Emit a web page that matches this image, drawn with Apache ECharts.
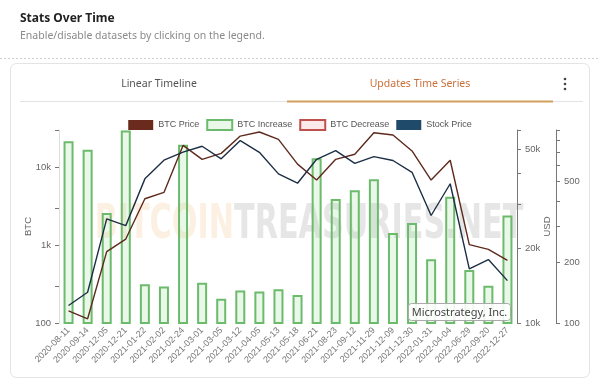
<!DOCTYPE html>
<html><head><meta charset="utf-8">
<script src="https://cdn.jsdelivr.net/npm/echarts@6/dist/echarts.min.js"></script>
<style>html,body{margin:0;padding:0;background:#fff}#c{width:600px;height:383px}</style>
</head><body><div id="c"></div>
<script>
const categories = ['2020-08-11','2020-09-14','2020-12-05','2020-12-21','2021-01-22','2021-02-02','2021-02-24','2021-03-01','2021-03-05','2021-03-12','2021-04-05','2021-05-13','2021-05-18','2021-06-21','2021-08-23','2021-09-12','2021-11-29','2021-12-09','2021-12-30','2022-01-31','2022-04-04','2022-06-29','2022-09-20','2022-12-27'];
const btcIncrease = [21454,16796,2574,29646,314,295,19452,328,205,262,253,271,229,13005,3907,5050,7002,1434,1914,660,4167,480,301,2395];
const btcDecrease = [];
const btcPrice = [11200,10400,19400,21800,31700,33600,52000,45700,48300,56700,58900,55000,43700,37700,45700,47900,58500,57300,49400,37700,45300,20700,19800,17900];
const stockPrice = [122,142,327,303,516,638,700,748,648,798,698,546,491,645,712,616,665,636,556,340,488,185,206,162];

const btcTicks = [100,300,1000,3000,10000,30000];
const btcTickLabels = [100,1000,10000];
const usdTicks = [10000,20000,30000,40000,50000,60000];
const usdTickLabels = [10000,20000,50000];
const stockTicks = [100,200,300,400,500,600,700,800,900];
const stockTickLabels = [100,200,500];

const fmt = v => v >= 1000 ? (v/1000) + 'k' : String(v);
const FONT = 'Liberation Sans';
const axisCommon = (ticks, labels) => ({
  type: 'log', logBase: 10,
  splitLine: {show: false},
  axisLine: {show: true, lineStyle: {color: '#777', width: 1}},
  axisTick: {show: true, length: 4, inside: false, customValues: ticks, lineStyle: {color: '#777'}},
  axisLabel: {customValues: labels, formatter: fmt, fontSize: 9.5, color: '#666', fontFamily: FONT, margin: 8},
  nameTextStyle: {fontSize: 9.5, color: '#666', fontFamily: FONT},
  nameMoveOverlap: false
});

const chart = echarts.init(document.getElementById('c'));
chart.setOption({
  animation: false,
  backgroundColor: '#fff',
  textStyle: {fontFamily: FONT},
  grid: {left: 59, right: 83, top: 130, bottom: 60, containLabel: false},
  legend: {
    top: 114, left: 'center', icon: 'rect', itemWidth: 25, itemHeight: 10, itemGap: 7,
    textStyle: {fontSize: 9, color: '#555', fontFamily: FONT},
    data: ['BTC Price','BTC Increase','BTC Decrease','Stock Price']
  },
  xAxis: {
    type: 'category', data: categories,
    axisLine: {show: false}, axisTick: {show: false},
    axisLabel: {rotate: 45, interval: 0, fontSize: 9, color: '#777', margin: 6, fontFamily: FONT}
  },
  yAxis: [
    Object.assign(axisCommon(btcTicks, btcTickLabels), {
      position: 'left', min: 100, max: 30000, name: 'BTC', nameLocation: 'middle', nameGap: 26,
      axisLine: {show: true, lineStyle: {color: '#ddd'}}
    }),
    Object.assign(axisCommon(usdTicks, usdTickLabels), {
      position: 'right', offset: 0, min: 10000, max: 60000, name: 'USD', nameLocation: 'middle', nameGap: 25, nameRotate: 90
    }),
    Object.assign(axisCommon(stockTicks, stockTickLabels), {
      position: 'right', offset: 39, min: 100, max: 900
    })
  ],
  graphic: [
    {type: 'text', left: 20, top: 13, style: {text: 'Stats Over Time', fontSize: 12, fontWeight: 'bold', fill: '#222', fontFamily: 'Noto Sans'}},
    {type: 'text', left: 20, top: 31, style: {text: 'Enable/disable datasets by clicking on the legend.', fontSize: 10.5, fill: '#8a8a8a', fontFamily: 'Noto Sans'}},
    {type: 'line', shape: {x1: 0, y1: 58.5, x2: 600, y2: 58.5}, style: {stroke: '#cfcfcf', lineDash: [2, 2], lineWidth: 1}},
    {type: 'rect', shape: {x: 10.5, y: 63.5, width: 579, height: 314, r: 6}, style: {fill: 'none', stroke: '#e4e4e4', lineWidth: 1}, z: -10},
    {type: 'text', x: 159, y: 84, style: {text: 'Linear Timeline', fontSize: 10.5, fill: '#555', align: 'center', verticalAlign: 'middle', fontFamily: 'Noto Sans'}},
    {type: 'text', x: 420, y: 84, style: {text: 'Updates Time Series', fontSize: 10.5, fill: '#c8703a', align: 'center', verticalAlign: 'middle', fontFamily: 'Noto Sans'}},
    {type: 'line', shape: {x1: 20, y1: 101.5, x2: 583, y2: 101.5}, style: {stroke: '#e3e3e3', lineWidth: 1}},
    {type: 'line', shape: {x1: 287, y1: 101.5, x2: 553, y2: 101.5}, style: {stroke: '#d2a05e', lineWidth: 2}},
    {type: 'circle', shape: {cx: 565, cy: 79, r: 1.3}, style: {fill: '#444'}},
    {type: 'circle', shape: {cx: 565, cy: 84, r: 1.3}, style: {fill: '#444'}},
    {type: 'circle', shape: {cx: 565, cy: 89, r: 1.3}, style: {fill: '#444'}},
    {type: 'text', x: 309, y: 226, scaleX: 0.63, z: -5, style: {
      text: '{a|BITCOIN}{b|TREASURIES.NET}', align: 'center', verticalAlign: 'middle',
      rich: {
        a: {fill: '#fbf0e2', fontSize: 48, fontWeight: 'bold', fontFamily: 'DejaVu Sans'},
        b: {fill: '#e6e6e6', fontSize: 48, fontWeight: 'bold', fontFamily: 'DejaVu Sans'}
      }}},
    {type: 'rect', z: 50, shape: {x: 408.5, y: 303.5, width: 102, height: 17, r: 3}, style: {fill: 'rgba(255,255,255,0.88)', stroke: '#aaa', lineWidth: 1}},
    {type: 'text', z: 51, x: 459.5, y: 312.5, style: {text: 'Microstrategy, Inc.', fontSize: 11, fill: '#444', align: 'center', verticalAlign: 'middle', fontFamily: 'Noto Sans'}}
  ],
  series: [
    {name: 'BTC Price', type: 'line', yAxisIndex: 1, data: btcPrice, symbol: 'none', z: 5,
      color: '#6b2b1c', lineStyle: {width: 1.4, color: '#5e2a1d'}},
    {name: 'BTC Increase', type: 'bar', yAxisIndex: 0, data: btcIncrease, barWidth: 10, barGap: '-100%',
      itemStyle: {color: 'rgba(140,215,140,0.18)', borderColor: '#6cbb6c', borderWidth: 2}},
    {name: 'BTC Decrease', type: 'bar', yAxisIndex: 0, data: btcDecrease, barWidth: 10, barGap: '-100%',
      itemStyle: {color: '#fde9e9', borderColor: '#c0504d', borderWidth: 2}},
    {name: 'Stock Price', type: 'line', yAxisIndex: 2, data: stockPrice, symbol: 'none', z: 5,
      color: '#1f4a6a', lineStyle: {width: 1.4, color: '#1c2f44'}}
  ]
});
</script></body></html>
